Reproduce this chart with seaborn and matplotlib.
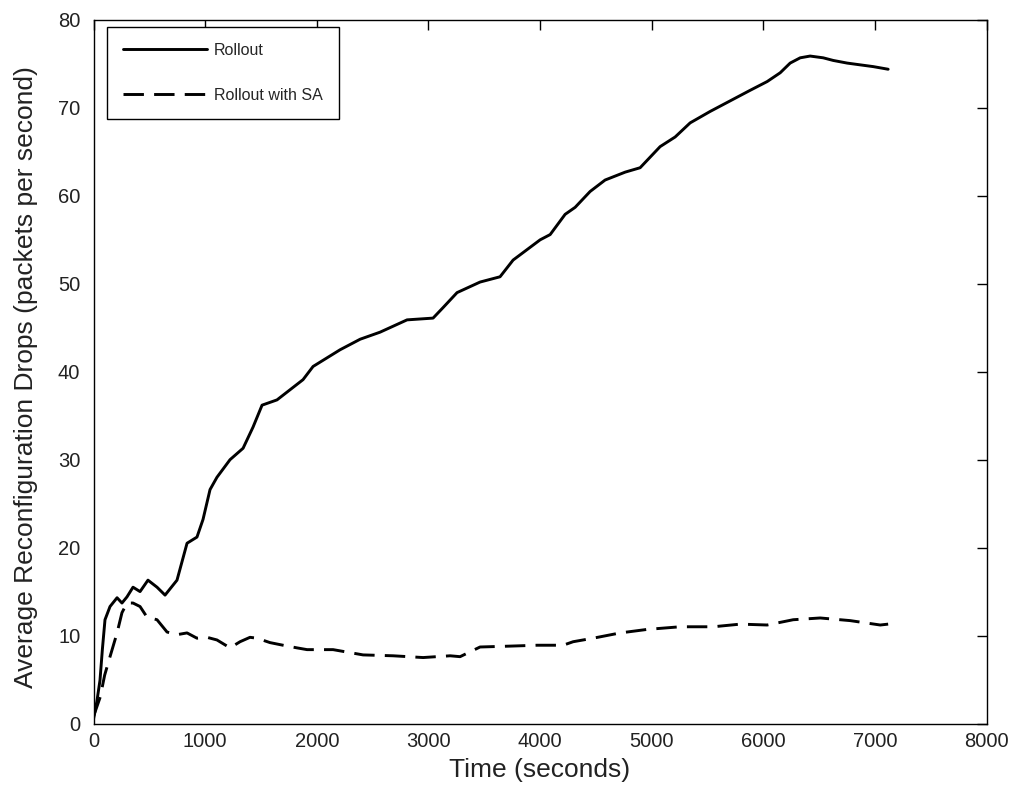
import matplotlib
matplotlib.use("Agg")
import matplotlib.pyplot as plt
import seaborn as sns
import pandas as pd

# ---- data ----
rollout_time = [0, 30, 58, 80, 103, 148, 211, 255, 300, 354, 417, 488, 569, 641, 748,
                838, 927, 981, 1044, 1106, 1223, 1340, 1429, 1510, 1644, 1877, 1967,
                2209, 2389, 2567, 2809, 3042, 3132, 3257, 3463, 3642, 3759, 4001, 4091,
                4225, 4315, 4449, 4583, 4763, 4897, 5076, 5211, 5345, 5524, 5703, 5882,
                6035, 6152, 6241, 6331, 6420, 6537, 6627, 6752, 6868, 6985, 7119]
rollout_drops = [0.5, 2.5, 4.9, 8.5, 11.8, 13.3, 14.3, 13.7, 14.4, 15.5, 15.0, 16.3,
                 15.5, 14.6, 16.3, 20.5, 21.2, 23.2, 26.6, 28.0, 30.0, 31.3, 33.7, 36.2,
                 36.8, 39.1, 40.6, 42.5, 43.7, 44.5, 45.9, 46.1, 47.3, 49.0, 50.2, 50.8,
                 52.7, 55.0, 55.6, 57.9, 58.7, 60.5, 61.8, 62.7, 63.2, 65.6, 66.7, 68.3,
                 69.6, 70.8, 72.0, 73.0, 74.0, 75.1, 75.7, 75.9, 75.7, 75.4, 75.1, 74.9,
                 74.7, 74.4]

sa_time = [0, 60, 100, 148, 211, 255, 300, 354, 417, 479, 569, 659, 748, 838, 927, 1017,
           1106, 1223, 1313, 1402, 1465, 1581, 1698, 1823, 1913, 2146, 2415, 2684, 2953,
           3195, 3284, 3463, 3732, 3974, 4207, 4297, 4476, 4718, 4960, 5256, 5552, 5794,
           6035, 6268, 6510, 6779, 7048, 7119]
sa_drops = [0.8, 3.0, 5.5, 7.6, 10.3, 12.6, 13.7, 13.7, 13.3, 12.1, 11.8, 10.4, 10.1,
            10.3, 9.7, 9.8, 9.5, 8.6, 9.3, 9.8, 9.7, 9.2, 8.9, 8.6, 8.4, 8.4, 7.8, 7.7,
            7.5, 7.7, 7.6, 8.7, 8.8, 8.9, 8.9, 9.3, 9.7, 10.3, 10.7, 11.0, 11.0, 11.3,
            11.2, 11.8, 12.0, 11.7, 11.2, 11.3]

series_labels = ["Rollout", "Rollout with SA"]
x_ticks = [0, 1000, 2000, 3000, 4000, 5000, 6000, 7000, 8000]
y_ticks = [0, 10, 20, 30, 40, 50, 60, 70, 80]
x_label = "Time (seconds)"
y_label = "Average Reconfiguration Drops (packets per second)"

# ---- styling ----
sns.set_theme(style="white")
plt.rcParams["font.family"] = ["Liberation Sans", "DejaVu Sans"]

fig = plt.figure(figsize=(10.21, 8.0), dpi=100)
ax = fig.add_axes([93.5 / 1021, 1 - 723.5 / 800, (986.5 - 93.5) / 1021, (723.5 - 20) / 800])

df_r = pd.DataFrame({"t": rollout_time, "d": rollout_drops})
df_s = pd.DataFrame({"t": sa_time, "d": sa_drops})

sns.lineplot(data=df_r, x="t", y="d", ax=ax, color="black", linewidth=2.1,
             label=series_labels[0])
sns.lineplot(data=df_s, x="t", y="d", ax=ax, color="black", linewidth=2.1,
             linestyle=(0, (7, 3.5)), label=series_labels[1])

ax.set_xlim(0, 8000)
ax.set_ylim(0, 80)
ax.set_xticks(x_ticks)
ax.set_yticks(y_ticks)
ax.set_xlabel(x_label, fontsize=19, color="#222222", labelpad=5)
ax.set_ylabel(y_label, fontsize=19, color="#222222")
ax.yaxis.set_label_coords(-0.062, 0.493)
ax.tick_params(axis="both", which="both", direction="in", length=7, width=1,
               top=True, right=True, labelsize=14.5, colors="black",
               labelcolor="#222222", pad=6)
ax.tick_params(axis="y", pad=9.5)
for s in ax.spines.values():
    s.set_visible(True)
    s.set_color("black")
    s.set_linewidth(1.0)
ax.grid(False)
ax.set_facecolor("white")

leg_size = 11.5
leg = ax.legend(loc="upper left", bbox_to_anchor=(0.0151, 0.990), borderaxespad=0,
                fontsize=leg_size, frameon=True, fancybox=False, edgecolor="black",
                framealpha=1, handlelength=84 / (leg_size * 100 / 72),
                borderpad=1.0, labelspacing=1.85, handletextpad=0.45)
leg.get_frame().set_linewidth(1.0)

fig.savefig("out.png", dpi=100, facecolor="white")
